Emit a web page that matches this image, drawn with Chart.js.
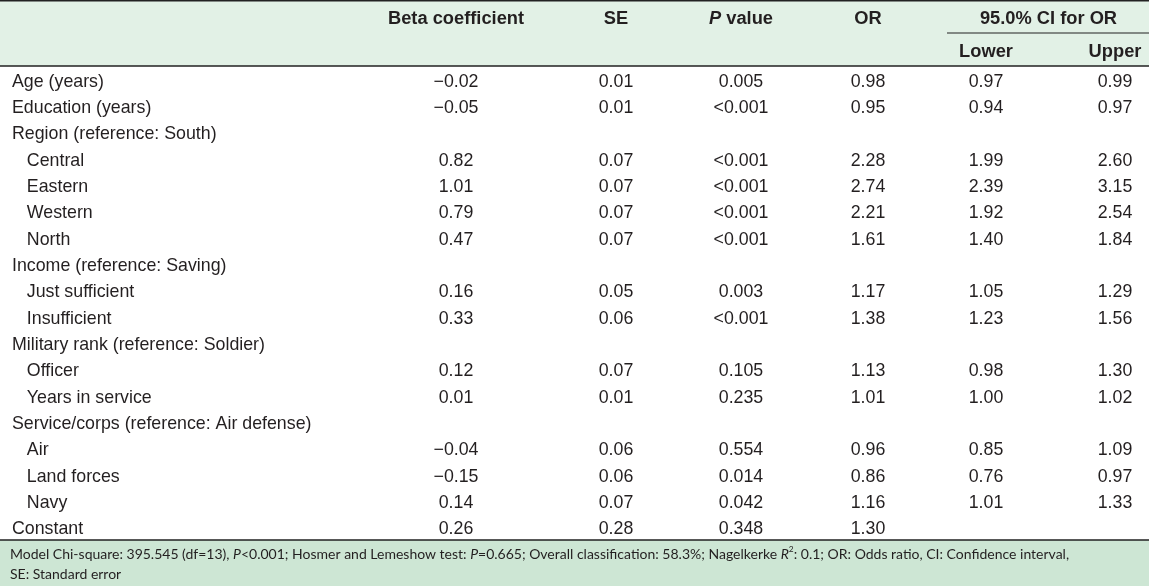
<!DOCTYPE html>
<html>
<head>
<meta charset="utf-8">
<style>
  html, body { margin: 0; padding: 0; background: #fff; }
  #wrap { width: 1149px; height: 586px; position: relative; }
</style>
</head>
<body>
<div id="wrap"><canvas id="tableChart"></canvas></div>
<script src="https://cdn.jsdelivr.net/npm/chart.js"></script>
<script>
    // row labels (indented ones are sub-categories)
    const rowLabels = [
        'Age (years)', 'Education (years)', 'Region (reference: South)',
        '   Central', '   Eastern', '   Western', '   North',
        'Income (reference: Saving)', '   Just sufficient', '   Insufficient',
        'Military rank (reference: Soldier)', '   Officer', '   Years in service',
        'Service/corps (reference: Air defense)', '   Air', '   Land forces', '   Navy',
        'Constant'
    ];

    const beta      = ['−0.02','−0.05',null,'0.82','1.01','0.79','0.47',null,'0.16','0.33',null,'0.12','0.01',null,'−0.04','−0.15','0.14','0.26'];
    const se        = ['0.01','0.01',null,'0.07','0.07','0.07','0.07',null,'0.05','0.06',null,'0.07','0.01',null,'0.06','0.06','0.07','0.28'];
    const pValue    = ['0.005','<0.001',null,'<0.001','<0.001','<0.001','<0.001',null,'0.003','<0.001',null,'0.105','0.235',null,'0.554','0.014','0.042','0.348'];
    const oddsRatio = ['0.98','0.95',null,'2.28','2.74','2.21','1.61',null,'1.17','1.38',null,'1.13','1.01',null,'0.96','0.86','1.16','1.30'];
    const ciLower   = ['0.97','0.94',null,'1.99','2.39','1.92','1.40',null,'1.05','1.23',null,'0.98','1.00',null,'0.85','0.76','1.01',null];
    const ciUpper   = ['0.99','0.97',null,'2.60','3.15','2.54','1.84',null,'1.29','1.56',null,'1.30','1.02',null,'1.09','0.97','1.33',null];

    const columnHeaders = ['Beta coefficient', 'SE', 'P value', 'OR', 'Lower', 'Upper'];
    const spanHeader = '95.0% CI for OR';

    const footnote = [
        [['Model Chi-square: 395.545 (df=13), '], ['P', 'i'], ['<0.001; Hosmer and Lemeshow test: '], ['P', 'i'],
         ['=0.665; Overall classification: 58.3%; Nagelkerke '], ['R', 'i'], ['2', 'sup'],
         [': 0.1; OR: Odds ratio, CI: Confidence interval,']],
        [['SE: Standard error']]
    ];

    // layout (x-scale units for the column centres)
    const colCenters = [456, 616, 741, 868, 986, 1115];
    const FONT = "'Liberation Sans', Arial, sans-serif";
    const BODY_SIZE = 17.8, HEAD_SIZE = 18.3, NOTE_SIZE = 14;
    const INK = '#231f20';

    const columns = [beta, se, pValue, oddsRatio, ciLower, ciUpper];
    const datasets = columns.map((col, c) => {
        const pts = [], txt = [];
        col.forEach((v, r) => {
            if (v !== null) { pts.push({x: colCenters[c], y: rowLabels[r]}); txt.push(v); }
        });
        return { label: columnHeaders[c], data: pts, cellText: txt, pointRadius: 0, pointHoverRadius: 0 };
    });

    function drawRich(ctx, parts, x, y, size, align, family, weight) {
        const fontFor = p => {
            const it = p[1] === 'i' ? 'italic ' : '';
            const sz = p[1] === 'sup' ? size * 0.6 : size;
            return it + weight + ' ' + sz + 'px ' + family;
        };
        let total = 0;
        parts.forEach(p => { ctx.font = fontFor(p); total += ctx.measureText(p[0]).width; });
        let cx = align === 'center' ? x - total / 2 : x;
        ctx.textAlign = 'left';
        parts.forEach(p => {
            ctx.font = fontFor(p);
            ctx.fillText(p[0], cx, p[1] === 'sup' ? y - size * 0.35 : y);
            cx += ctx.measureText(p[0]).width;
        });
    }

    const tablePlugin = {
        id: 'tablePlugin',
        beforeDraw(chart) {
            const {ctx, chartArea: a, width, height} = chart;
            ctx.save();
            ctx.fillStyle = '#e2f1e6';
            ctx.fillRect(0, 0, width, a.top);
            ctx.fillStyle = '#cde6d4';
            ctx.fillRect(0, a.bottom, width, height - a.bottom);
            ctx.strokeStyle = '#222';
            ctx.lineWidth = 1.5;
            ctx.beginPath();
            ctx.moveTo(0, 0.75); ctx.lineTo(width, 0.75);
            ctx.moveTo(0, a.top); ctx.lineTo(width, a.top);
            ctx.moveTo(0, a.bottom); ctx.lineTo(width, a.bottom);
            ctx.stroke();
            // line under the spanning header
            const xs = chart.scales.x;
            ctx.lineWidth = 1.2;
            ctx.beginPath();
            ctx.moveTo(xs.getPixelForValue(colCenters[4]) - 39, a.top - 33);
            ctx.lineTo(width, a.top - 33);
            ctx.stroke();
            ctx.restore();
        },
        afterDatasetsDraw(chart) {
            const {ctx, chartArea: a} = chart;
            const xs = chart.scales.x;
            ctx.save();
            ctx.fillStyle = INK;
            ctx.textBaseline = 'middle';
            ctx.textAlign = 'center';
            ctx.font = BODY_SIZE + 'px ' + FONT;
            chart.data.datasets.forEach((ds, i) => {
                chart.getDatasetMeta(i).data.forEach((el, j) => {
                    ctx.fillText(ds.cellText[j], el.x, el.y + 2.5);
                });
            });
            // headers
            columnHeaders.forEach((h, c) => {
                const x = xs.getPixelForValue(colCenters[c]);
                const y = c >= 4 ? a.top - 14.5 : a.top - 47;
                const parts = h === 'P value' ? [['P', 'i'], [' value']] : [[h]];
                drawRich(ctx, parts, x, y, HEAD_SIZE, 'center', FONT, 'bold');
            });
            const spanX = (xs.getPixelForValue(colCenters[4]) + xs.getPixelForValue(colCenters[5])) / 2 - 2;
            drawRich(ctx, [[spanHeader]], spanX, a.top - 47, HEAD_SIZE, 'center', FONT, 'bold');
            // footnote
            footnote.forEach((line, k) => {
                drawRich(ctx, line, 10, a.bottom + 14 + k * 20, NOTE_SIZE, 'left', "Lato, 'Noto Sans', sans-serif", 'normal');
            });
            ctx.restore();
        }
    };

    const ctx = document.getElementById('tableChart').getContext('2d');
    const tableChart = new Chart(ctx, {
        type: 'scatter',
        data: { datasets: datasets },
        options: {
            responsive: true,
            maintainAspectRatio: false,
            animation: false,
            events: [],
            layout: { padding: { top: 66, bottom: 46, left: 12, right: 0 } },
            plugins: { legend: { display: false }, tooltip: { enabled: false } },
            scales: {
                x: { type: 'linear', display: false, min: 342, max: 1149 },
                y: {
                    type: 'category',
                    labels: rowLabels,
                    offset: true,
                    grid: { display: false },
                    border: { display: false },
                    afterFit: scale => { scale.width = 330; },
                    ticks: {
                        crossAlign: 'far',
                        padding: 0,
                        labelOffset: 2.5,
                        autoSkip: false,
                        color: INK,
                        font: { family: FONT, size: BODY_SIZE }
                    }
                }
            }
        },
        plugins: [tablePlugin]
    });
</script>
</body>
</html>
